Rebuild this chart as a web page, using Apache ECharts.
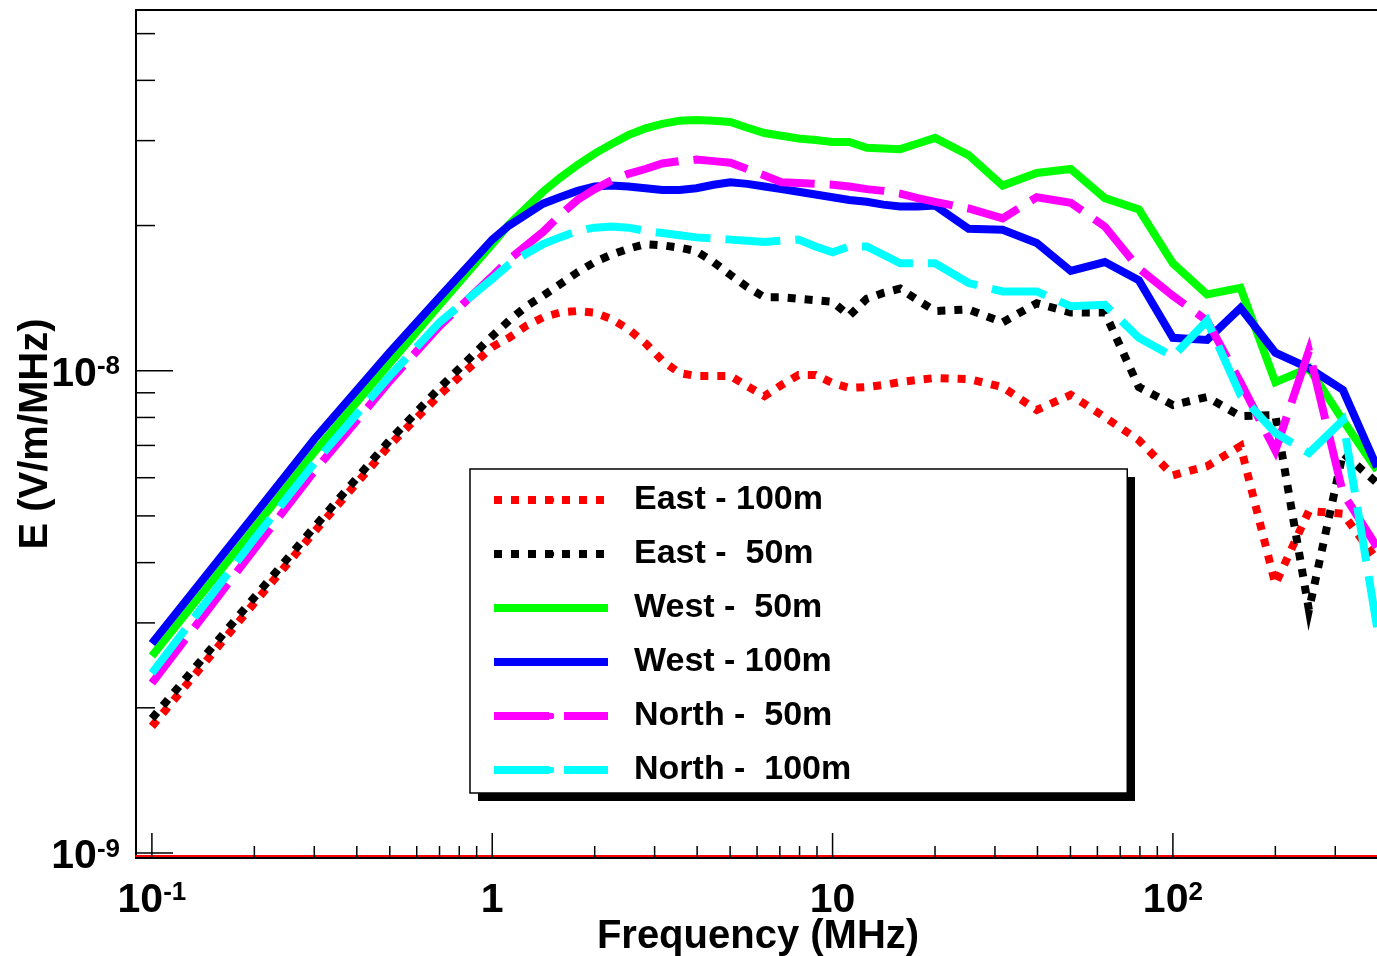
<!DOCTYPE html>
<html><head><meta charset="utf-8">
<script src="https://cdn.jsdelivr.net/npm/echarts@6/dist/echarts.min.js"></script>
<style>html,body{margin:0;padding:0;background:#fff}#chart{width:1377px;height:956px}</style>
</head><body><div id="chart"></div>
<script>
// Frequencies (MHz)
const freq = [0.1, 0.2, 0.3, 0.5, 0.7, 1.0, 1.12, 1.26, 1.41, 1.58, 1.78, 2.0, 2.24, 2.51, 2.82, 3.16, 3.55, 3.98, 4.47, 5.01, 5.62, 6.31, 7.08, 7.94, 8.91, 10.0, 11.2, 12.6, 14.1, 15.8, 17.8, 20.0, 25.1, 31.6, 39.8, 50.1, 63.1, 79.4, 100, 126, 158, 200, 251, 316, 398];

// E (V/m/MHz)
const east100 = [1.83e-9, 3.30e-9, 4.63e-9, 7.01e-9, 8.91e-9, 1.12e-8, 1.17e-8, 1.24e-8, 1.29e-8, 1.32e-8, 1.33e-8, 1.32e-8, 1.28e-8, 1.22e-8, 1.14e-8, 1.05e-8, 9.89e-9, 9.75e-9, 9.75e-9, 9.75e-9, 9.29e-9, 8.86e-9, 9.34e-9, 9.80e-9, 9.80e-9, 9.43e-9, 9.21e-9, 9.25e-9, 9.34e-9, 9.47e-9, 9.57e-9, 9.66e-9, 9.61e-9, 9.25e-9, 8.29e-9, 8.91e-9, 8.01e-9, 7.18e-9, 6.07e-9, 6.34e-9, 6.98e-9, 3.61e-9, 5.12e-9, 5.05e-9, 4.05e-9];
const east50 = [1.90e-9, 3.39e-9, 4.74e-9, 7.18e-9, 9.21e-9, 1.18e-8, 1.27e-8, 1.36e-8, 1.43e-8, 1.51e-8, 1.60e-8, 1.68e-8, 1.74e-8, 1.79e-8, 1.83e-8, 1.82e-8, 1.80e-8, 1.77e-8, 1.68e-8, 1.58e-8, 1.49e-8, 1.42e-8, 1.42e-8, 1.41e-8, 1.40e-8, 1.39e-8, 1.30e-8, 1.41e-8, 1.45e-8, 1.48e-8, 1.40e-8, 1.33e-8, 1.34e-8, 1.26e-8, 1.38e-8, 1.32e-8, 1.32e-8, 9.25e-9, 8.49e-9, 8.82e-9, 8.05e-9, 8.09e-9, 3.19e-9, 6.75e-9, 5.85e-9];
const west50 = [2.56e-9, 4.72e-9, 6.78e-9, 1.037e-8, 1.37e-8, 1.83e-8, 2.01e-8, 2.18e-8, 2.35e-8, 2.51e-8, 2.67e-8, 2.82e-8, 2.95e-8, 3.08e-8, 3.18e-8, 3.25e-8, 3.30e-8, 3.31e-8, 3.30e-8, 3.28e-8, 3.19e-8, 3.11e-8, 3.07e-8, 3.03e-8, 3.01e-8, 2.98e-8, 2.98e-8, 2.90e-8, 2.89e-8, 2.88e-8, 2.96e-8, 3.04e-8, 2.80e-8, 2.42e-8, 2.57e-8, 2.62e-8, 2.28e-8, 2.16e-8, 1.67e-8, 1.44e-8, 1.485e-8, 9.47e-9, 1.013e-8, 7.89e-9, 6.22e-9];
const west100 = [2.72e-9, 5.02e-9, 7.21e-9, 1.093e-8, 1.42e-8, 1.87e-8, 2.00e-8, 2.11e-8, 2.22e-8, 2.29e-8, 2.36e-8, 2.41e-8, 2.42e-8, 2.41e-8, 2.39e-8, 2.37e-8, 2.37e-8, 2.39e-8, 2.43e-8, 2.46e-8, 2.44e-8, 2.41e-8, 2.38e-8, 2.35e-8, 2.32e-8, 2.29e-8, 2.26e-8, 2.24e-8, 2.21e-8, 2.19e-8, 2.19e-8, 2.20e-8, 1.97e-8, 1.96e-8, 1.84e-8, 1.61e-8, 1.68e-8, 1.54e-8, 1.17e-8, 1.158e-8, 1.35e-8, 1.09e-8, 1.013e-8, 9.12e-9, 6.31e-9];
const north50 = [2.25e-9, 4.27e-9, 6.19e-9, 9.52e-9, 1.238e-8, 1.57e-8, 1.70e-8, 1.82e-8, 1.94e-8, 2.10e-8, 2.26e-8, 2.38e-8, 2.48e-8, 2.56e-8, 2.62e-8, 2.69e-8, 2.72e-8, 2.74e-8, 2.72e-8, 2.70e-8, 2.62e-8, 2.54e-8, 2.46e-8, 2.45e-8, 2.44e-8, 2.43e-8, 2.41e-8, 2.38e-8, 2.36e-8, 2.33e-8, 2.28e-8, 2.24e-8, 2.17e-8, 2.07e-8, 2.29e-8, 2.23e-8, 1.99e-8, 1.63e-8, 1.43e-8, 1.27e-8, 9.46e-9, 6.83e-9, 1.10e-8, 5.57e-9, 4.31e-9];
const north100 = [2.36e-9, 4.48e-9, 6.43e-9, 9.75e-9, 1.26e-8, 1.55e-8, 1.66e-8, 1.75e-8, 1.83e-8, 1.89e-8, 1.95e-8, 1.98e-8, 1.99e-8, 1.98e-8, 1.95e-8, 1.93e-8, 1.91e-8, 1.89e-8, 1.88e-8, 1.87e-8, 1.86e-8, 1.85e-8, 1.86e-8, 1.87e-8, 1.81e-8, 1.76e-8, 1.81e-8, 1.81e-8, 1.74e-8, 1.67e-8, 1.67e-8, 1.67e-8, 1.52e-8, 1.46e-8, 1.46e-8, 1.36e-8, 1.37e-8, 1.17e-8, 1.07e-8, 1.27e-8, 8.90e-9, 7.43e-9, 6.75e-9, 7.90e-9, 2.94e-9];

const seriesNames = ['East - 100m', 'East -  50m', 'West -  50m', 'West - 100m', 'North -  50m', 'North -  100m'];

// Axis ticks and labels
const xTickValues = [0.1, 1, 10, 100];
const xTickLabels = ['10^-1', '1', '10', '10^2'];
const xMinorTicks = [0.2, 0.3, 0.4, 0.5, 0.6, 0.7, 0.8, 0.9, 2, 3, 4, 5, 6, 7, 8, 9, 20, 30, 40, 50, 60, 70, 80, 90, 200, 300, 400];
const yTickValues = [1e-9, 1e-8];
const yTickLabels = ['10^-9', '10^-8'];
const yMinorTicks = [2e-9, 3e-9, 4e-9, 5e-9, 6e-9, 7e-9, 8e-9, 9e-9, 2e-8, 3e-8, 4e-8, 5e-8];

const xMin = 0.0898, xMax = 406;
const yMin = 0.9764e-9, yMax = 5.597e-8;

const FONT = "'Liberation Sans', Arial, Helvetica, sans-serif";

function labelFormatter(values, labels) {
  return function (v) {
    for (let i = 0; i < values.length; i++) {
      if (Math.abs(Math.log10(v) - Math.log10(values[i])) < 1e-6) {
        const t = labels[i];
        const k = t.indexOf('^');
        return k < 0 ? '{b|' + t + '}' : '{b|' + t.slice(0, k) + '}{s|' + t.slice(k + 1) + '}';
      }
    }
    return '';
  };
}

const labelRich = {
  b: { fontSize: 41, fontWeight: 'bold', fontFamily: FONT, color: '#000' },
  s: { fontSize: 26, fontWeight: 'bold', fontFamily: FONT, color: '#000', verticalAlign: 'top' }
};

const dotted = [8, 9];
const dashed = [55, 15];
const LW = 8;
const styles = [
  { color: '#ff0000', type: dotted },
  { color: '#000000', type: dotted },
  { color: '#00ff00', type: 'solid' },
  { color: '#0000ff', type: 'solid' },
  { color: '#ff00ff', type: dashed },
  { color: '#00ffff', type: dashed }
];
const seriesData = [east100, east50, west50, west100, north50, north100];

const tickData = []
  .concat(xTickValues.map(v => [v, yMin, 0, 25]))
  .concat(xMinorTicks.map(v => [v, yMin, 0, 12]))
  .concat(yTickValues.map(v => [xMin, v, 1, 37]))
  .concat(yMinorTicks.map(v => [xMin, v, 1, 19]));

const chart = echarts.init(document.getElementById('chart'), null, { renderer: 'canvas' });
chart.setOption({
  animation: false,
  backgroundColor: '#fff',
  grid: { left: 136, top: 10, right: -3, bottom: 98, containLabel: false, outerBoundsMode: 'none',
          show: true, borderColor: '#000', borderWidth: 2, backgroundColor: 'transparent' },
  graphic: [{
    type: 'rect', left: 478, top: 477, z: 8, silent: true,
    shape: { width: 657, height: 324 },
    style: { fill: '#000' }
  }],
  xAxis: {
    type: 'log', logBase: 10, min: xMin, max: xMax,
    name: 'Frequency (MHz)', nameLocation: 'middle', nameGap: 59, nameMoveOverlap: false,
    nameTextStyle: { fontSize: 40, fontWeight: 'bold', fontFamily: FONT, color: '#000' },
    axisLine: { show: true, lineStyle: { color: '#000', width: 2, shadowColor: '#ff0000', shadowOffsetY: -2, shadowBlur: 0 } },
    axisTick: { show: false },
    splitLine: { show: false },
    minorTick: { show: false },
    axisLabel: { margin: 22, formatter: labelFormatter(xTickValues, xTickLabels), rich: labelRich, showMinLabel: false, showMaxLabel: false, hideOverlap: false }
  },
  yAxis: {
    type: 'log', logBase: 10, min: yMin, max: yMax,
    name: 'E (V/m/MHz)', nameLocation: 'middle', nameGap: 80, nameRotate: 90, nameMoveOverlap: false,
    nameTextStyle: { fontSize: 40, fontWeight: 'bold', fontFamily: FONT, color: '#000' },
    axisLine: { show: true, lineStyle: { color: '#000', width: 2 } },
    axisTick: { show: false },
    splitLine: { show: false },
    axisLabel: { margin: 16, padding: [8, 0, 0, 0], formatter: labelFormatter(yTickValues, yTickLabels), rich: labelRich, showMinLabel: false, showMaxLabel: false, hideOverlap: false }
  },
  legend: {
    orient: 'vertical', left: 470, top: 469, z: 10,
    padding: [11, 276, 3, 20],
    itemWidth: 114, itemHeight: 8, itemGap: 14,
    backgroundColor: '#fff', borderColor: '#000', borderWidth: 1.5,
    selectedMode: false,
    lineStyle: { width: LW },
    textStyle: { fontSize: 34, fontWeight: 'bold', fontFamily: FONT, color: '#000', lineHeight: 40, padding: [0, 0, 0, 21] },
    data: seriesNames.map((n, i) => ({ name: n, lineStyle: { color: styles[i].color, width: LW, type: styles[i].type, cap: 'butt' } }))
  },
  series: seriesNames.map((n, i) => ({
    name: n, type: 'line',
    data: freq.map((f, j) => [f, seriesData[i][j]]),
    symbol: 'none', showSymbol: false, smooth: false,
    lineStyle: { color: styles[i].color, width: LW, type: styles[i].type, cap: 'butt', join: 'miter' },
    itemStyle: { color: styles[i].color },
    emphasis: { disabled: true },
    z: 2 + i
  })).concat([{
    type: 'custom', name: 'ticks', silent: true, clip: false, z: 20,
    data: tickData,
    renderItem: function (params, api) {
      const p = api.coord([api.value(0), api.value(1)]);
      const k = api.value(2), L = api.value(3);
      const shape = k === 0
        ? { x1: p[0], y1: p[1], x2: p[0], y2: p[1] - L }
        : { x1: p[0], y1: p[1], x2: p[0] + L, y2: p[1] };
      return { type: 'line', shape: shape, style: { stroke: '#000', lineWidth: 1.5 } };
    }
  }])
});
</script></body></html>
